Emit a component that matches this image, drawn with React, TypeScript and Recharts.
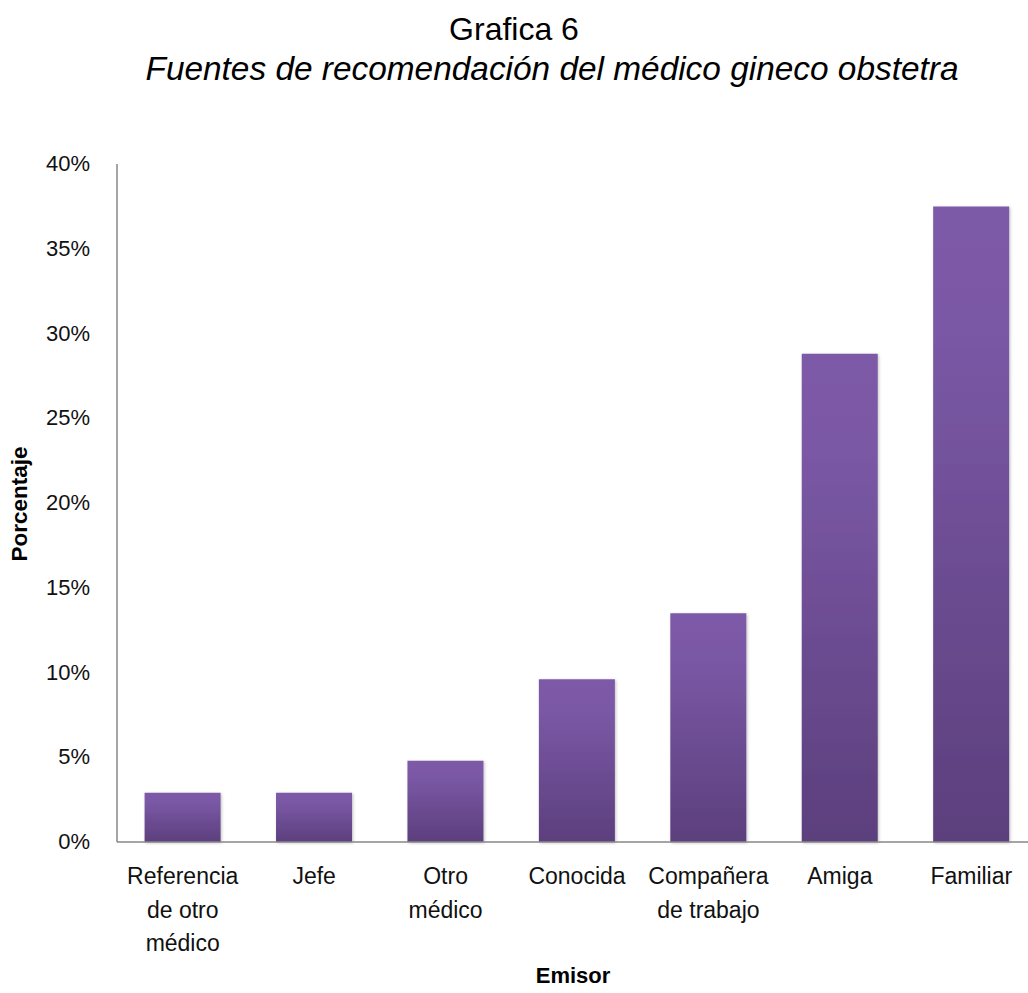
import React from 'react';
import { BarChart, Bar, XAxis, YAxis } from 'recharts';

const categories = [
  'Referencia de otro médico',
  'Jefe',
  'Otro médico',
  'Conocida',
  'Compañera de trabajo',
  'Amiga',
  'Familiar',
];
const tickLines = [
  ['Referencia', 'de otro', 'médico'],
  ['Jefe'],
  ['Otro', 'médico'],
  ['Conocida'],
  ['Compañera', 'de trabajo'],
  ['Amiga'],
  ['Familiar'],
];
const percentages = [2.9, 2.9, 4.8, 9.6, 13.5, 28.8, 37.5];
const yTicks = [0, 5, 10, 15, 20, 25, 30, 35, 40];

const title = 'Grafica 6';
const subtitle = 'Fuentes de recomendación del médico gineco obstetra';
const xTitle = 'Emisor';
const yTitle = 'Porcentaje';

const data = categories.map((name, i) => ({ name, value: percentages[i], idx: i }));

const FONT = "'Liberation Sans', Arial, sans-serif";

const XTick = (props: any) => {
  const { x, y, payload } = props;
  const lines = tickLines[payload.index] || [payload.value];
  return (
    <text x={x} y={y} textAnchor="middle" fontFamily={FONT} fontSize={23} fill="#111">
      {lines.map((l: string, i: number) => (
        <tspan key={i} x={x} y={y + 34 + i * 33.5}>{l}</tspan>
      ))}
    </text>
  );
};

const YTick = (props: any) => {
  const { y, payload } = props;
  return (
    <text x={90} y={y + 7} textAnchor="end" fontFamily={FONT} fontSize={22} fill="#111">
      {payload.value + '%'}
    </text>
  );
};

export default function App() {
  return (
    <div style={{ position: 'absolute', left: 0, top: 0, width: 1028, height: 993, overflow: 'hidden', background: '#fff' }}>
      <div style={{ position: 'absolute', left: 0, top: 11, width: 1028, textAlign: 'center', fontFamily: FONT, fontSize: 32, color: '#000', lineHeight: '36px' }}>
        {title}
      </div>
      <div style={{ position: 'absolute', left: 80, top: 50, width: 944, textAlign: 'center', fontFamily: FONT, fontSize: 33.4, fontStyle: 'italic', color: '#000', lineHeight: '38px', whiteSpace: 'nowrap' }}>
        {subtitle}
      </div>
      <div style={{ position: 'absolute', left: 20, top: 504, transform: 'translate(-50%, -50%) rotate(-90deg)', fontFamily: FONT, fontSize: 22.5, fontWeight: 'bold', color: '#000', whiteSpace: 'nowrap' }}>
        {yTitle}
      </div>
      <div style={{ position: 'absolute', left: 573, top: 976, transform: 'translate(-50%, -50%)', fontFamily: FONT, fontSize: 22, fontWeight: 'bold', color: '#000', whiteSpace: 'nowrap' }}>
        {xTitle}
      </div>
      <BarChart
        width={1028}
        height={993}
        data={data}
        margin={{ top: 164, right: -9, bottom: 0, left: 0 }}
        barCategoryGap="21%"
      >
        <defs>
          <linearGradient id="barGrad" x1="0" y1="0" x2="0" y2="1">
            <stop offset="0" stopColor="#7C5AA8" />
            <stop offset="0.2" stopColor="#7A58A5" />
            <stop offset="1" stopColor="#5C3F7D" />
          </linearGradient>
          <filter id="barShadow" x="-10%" y="-10%" width="120%" height="120%">
            <feDropShadow dx="1" dy="1" stdDeviation="1.5" floodColor="#000" floodOpacity="0.25" />
          </filter>
        </defs>
        <XAxis
          dataKey="name"
          height={151}
          tickLine={false}
          axisLine={{ stroke: '#878787', strokeWidth: 1.5 }}
          tick={<XTick />}
          interval={0}
        />
        <YAxis
          width={117}
          domain={[0, 40]}
          ticks={yTicks}
          tickLine={false}
          axisLine={{ stroke: '#878787', strokeWidth: 1.5 }}
          tick={<YTick />}
          interval={0}
        />
        <Bar dataKey="value" fill="url(#barGrad)" filter="url(#barShadow)" isAnimationActive={false} />
      </BarChart>
    </div>
  );
}
